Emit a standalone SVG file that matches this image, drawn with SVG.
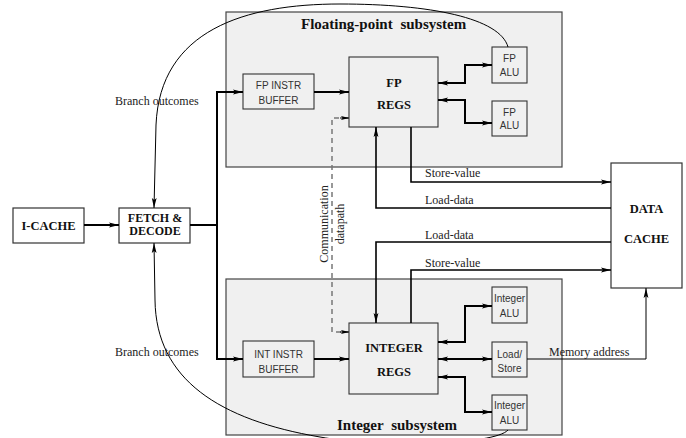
<svg xmlns="http://www.w3.org/2000/svg" width="686" height="438" viewBox="0 0 686 438">
<style>
.sub{fill:#f0f0f0;stroke:#444;stroke-width:1.2}
.box{fill:#f0f0f0;stroke:#333;stroke-width:1.1}
.wbox{fill:#fff;stroke:#333;stroke-width:1.2}
.title{font-family:"Liberation Serif",serif;font-weight:bold;font-size:15px;fill:#111;word-spacing:4px}
.big{font-family:"Liberation Serif",serif;font-weight:bold;font-size:12.5px;fill:#111;text-anchor:middle}
.fd{font-size:12px}
.sm{font-family:"Liberation Sans Narrow","Liberation Sans",Arial,sans-serif;font-size:10px;fill:#333;text-anchor:middle}
.lbl{font-family:"Liberation Serif",serif;font-size:12px;fill:#222}
.thick{fill:none;stroke:#000;stroke-width:2}
.mid{fill:none;stroke:#000;stroke-width:1.6}
.thin{fill:none;stroke:#000;stroke-width:1}
.dash{fill:none;stroke:#777;stroke-width:1.5;stroke-dasharray:5 4}
</style>
<defs>
<marker id="a" viewBox="0 0 10 6" refX="10" refY="3" markerWidth="10" markerHeight="6" markerUnits="userSpaceOnUse" orient="auto-start-reverse">
<path d="M0,0.6 L10,3 L0,5.4 L2,3 z" fill="#000"/>
</marker>
<marker id="s" viewBox="0 0 10 6" refX="10" refY="3" markerWidth="8" markerHeight="5" markerUnits="userSpaceOnUse" orient="auto-start-reverse">
<path d="M0,0.6 L10,3 L0,5.4 L2,3 z" fill="#000"/>
</marker>
</defs>

<g id="fp-subsystem">
<rect class="sub" x="226" y="12" width="336" height="155"/>
<text class="title" x="301" y="29">Floating-point subsystem</text>
</g>
<g id="int-subsystem">
<rect class="sub" x="226" y="279" width="336" height="156"/>
<text class="title" x="337" y="430">Integer subsystem</text>
</g>

<g id="icache">
<rect class="wbox" x="13" y="208" width="71" height="35"/>
<text class="big" x="48.5" y="230">I-CACHE</text>
</g>
<g id="fetch">
<rect class="wbox" x="119" y="208" width="71" height="35"/>
<text class="big fd" x="155" y="222">FETCH &amp;</text>
<text class="big fd" x="155" y="235">DECODE</text>
</g>
<g id="datacache">
<rect class="wbox" x="611" y="163" width="71" height="125"/>
<text class="big" x="646.5" y="213">DATA</text>
<text class="big" x="646.5" y="243">CACHE</text>
</g>

<g id="fp-instr-buffer">
<rect class="box" x="243" y="74" width="71" height="35"/>
<text class="sm" x="278.5" y="89">FP INSTR</text>
<text class="sm" x="278.5" y="104">BUFFER</text>
</g>
<g id="fp-regs">
<rect class="box" x="349" y="57" width="89" height="70"/>
<text class="big" x="394" y="87">FP</text>
<text class="big" x="394" y="109">REGS</text>
</g>
<g id="fp-alu1">
<rect class="box" x="492" y="47" width="35" height="36"/>
<text class="sm" x="509.5" y="62">FP</text>
<text class="sm" x="509.5" y="76">ALU</text>
</g>
<g id="fp-alu2">
<rect class="box" x="492" y="101" width="35" height="35"/>
<text class="sm" x="509.5" y="116">FP</text>
<text class="sm" x="509.5" y="129">ALU</text>
</g>

<g id="int-instr-buffer">
<rect class="box" x="243" y="341" width="71" height="36"/>
<text class="sm" x="278.5" y="358">INT INSTR</text>
<text class="sm" x="278.5" y="373">BUFFER</text>
</g>
<g id="int-regs">
<rect class="box" x="349" y="323" width="89" height="71"/>
<text class="big" x="394" y="352">INTEGER</text>
<text class="big" x="394" y="376">REGS</text>
</g>
<g id="int-alu1">
<rect class="box" x="492" y="287" width="35" height="36"/>
<text class="sm" x="509.5" y="302">Integer</text>
<text class="sm" x="509.5" y="317">ALU</text>
</g>
<g id="loadstore">
<rect class="box" x="492" y="342" width="35" height="35"/>
<text class="sm" x="509.5" y="358">Load/</text>
<text class="sm" x="509.5" y="372">Store</text>
</g>
<g id="int-alu2">
<rect class="box" x="492" y="395" width="35" height="35"/>
<text class="sm" x="509.5" y="409">Integer</text>
<text class="sm" x="509.5" y="424">ALU</text>
</g>

<g id="connectors">
<path class="thick" d="M84,225 H119" marker-end="url(#a)"/>
<path class="thick" d="M190,225 H217"/>
<path class="thick" d="M217,91 V360"/>
<path class="thick" d="M216,92 H243" marker-end="url(#a)"/>
<path class="thick" d="M216,359 H243" marker-end="url(#a)"/>
<path class="thick" d="M314,92 H349" marker-end="url(#a)"/>
<path class="thick" d="M314,359 H349" marker-end="url(#a)"/>

<path class="thick" d="M438,83 H465 V65 H492" marker-start="url(#a)" marker-end="url(#a)"/>
<path class="thick" d="M438,100 H465 V123 H492" marker-start="url(#a)" marker-end="url(#a)"/>
<path class="thick" d="M438,342 H465 V306 H492" marker-start="url(#a)" marker-end="url(#a)"/>
<path class="thick" d="M438,359 H492" marker-start="url(#a)" marker-end="url(#a)"/>
<path class="thick" d="M438,377 H465 V412 H492" marker-start="url(#a)" marker-end="url(#a)"/>

<path class="mid" d="M411,127 V182 H611" marker-end="url(#a)"/>
<path class="mid" d="M611,208 H376 V127" marker-end="url(#a)"/>
<path class="mid" d="M611,242 H376 V323" marker-end="url(#a)"/>
<path class="mid" d="M411,323 V270 H611" marker-end="url(#a)"/>
<path class="thin" d="M527,359 H646 V288" marker-end="url(#a)"/>

<path class="dash" d="M348,118 H332 V332 H348"/>
<path class="thin" d="M340,118 H349" marker-end="url(#s)"/>
<path class="thin" d="M340,332 H349" marker-end="url(#s)"/>

<path class="thin" d="M508,47 C500,18 430,4 340,4 C245,4 160,30 156,125 L154,208" marker-end="url(#a)"/>
<path class="thin" d="M508,430 C495,445 380,448 320,437 C220,420 156,380 155,300 L154,243" marker-end="url(#a)"/>

<text class="lbl" x="115" y="105">Branch outcomes</text>
<text class="lbl" x="115" y="356">Branch outcomes</text>
<text class="lbl" x="425" y="177">Store-value</text>
<text class="lbl" x="425" y="204">Load-data</text>
<text class="lbl" x="425" y="239">Load-data</text>
<text class="lbl" x="425" y="267">Store-value</text>
<text class="lbl" x="549" y="356">Memory address</text>
<text class="lbl" text-anchor="middle" transform="translate(328,224) rotate(-90)">Communication</text>
<text class="lbl" text-anchor="middle" transform="translate(344,224) rotate(-90)">datapath</text>
</g>
</svg>
